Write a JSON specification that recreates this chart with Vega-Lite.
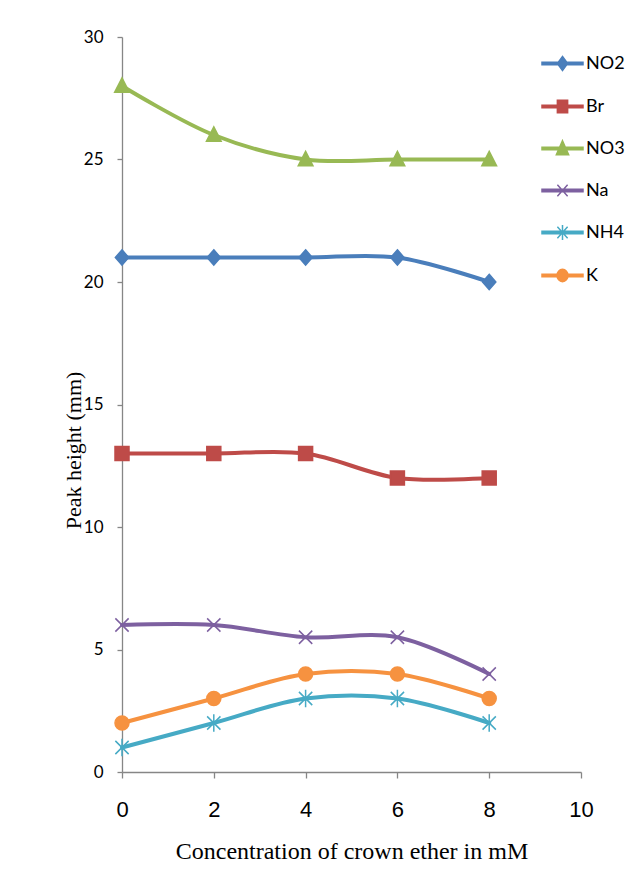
{
  "$schema": "https://vega.github.io/schema/vega-lite/v6.json",
  "width": 459,
  "height": 735,
  "autosize": "none",
  "padding": {"left": 122, "top": 37, "right": 54, "bottom": 112},
  "background": "white",
  "config": {
    "view": {"stroke": null},
    "axis": {"grid": false, "domainColor": "#868686", "tickColor": "#868686", "domainWidth": 1.3, "tickWidth": 1.3, "labelColor": "black", "titleColor": "black", "titleFontWeight": "normal"},
    "legend": {"title": null, "orient": "none", "legendX": 419, "legendY": 5,
      "symbolSize": 1681, "symbolStrokeWidth": 1.5, "labelFont": "Lato", "labelFontSize": 18, "labelColor": "black",
      "labelOffset": 2, "rowPadding": 11}
  },
  "data": {
    "values": [
      {"conc": 0, "peak": 21, "ion": "NO2"},
      {"conc": 2, "peak": 21, "ion": "NO2"},
      {"conc": 4, "peak": 21, "ion": "NO2"},
      {"conc": 6, "peak": 21, "ion": "NO2"},
      {"conc": 8, "peak": 20, "ion": "NO2"},
      {"conc": 0, "peak": 13, "ion": "Br"},
      {"conc": 2, "peak": 13, "ion": "Br"},
      {"conc": 4, "peak": 13, "ion": "Br"},
      {"conc": 6, "peak": 12, "ion": "Br"},
      {"conc": 8, "peak": 12, "ion": "Br"},
      {"conc": 0, "peak": 28, "ion": "NO3"},
      {"conc": 2, "peak": 26, "ion": "NO3"},
      {"conc": 4, "peak": 25, "ion": "NO3"},
      {"conc": 6, "peak": 25, "ion": "NO3"},
      {"conc": 8, "peak": 25, "ion": "NO3"},
      {"conc": 0, "peak": 6, "ion": "Na"},
      {"conc": 2, "peak": 6, "ion": "Na"},
      {"conc": 4, "peak": 5.5, "ion": "Na"},
      {"conc": 6, "peak": 5.5, "ion": "Na"},
      {"conc": 8, "peak": 4, "ion": "Na"},
      {"conc": 0, "peak": 1, "ion": "NH4"},
      {"conc": 2, "peak": 2, "ion": "NH4"},
      {"conc": 4, "peak": 3, "ion": "NH4"},
      {"conc": 6, "peak": 3, "ion": "NH4"},
      {"conc": 8, "peak": 2, "ion": "NH4"},
      {"conc": 0, "peak": 2, "ion": "K"},
      {"conc": 2, "peak": 3, "ion": "K"},
      {"conc": 4, "peak": 4, "ion": "K"},
      {"conc": 6, "peak": 4, "ion": "K"},
      {"conc": 8, "peak": 3, "ion": "K"}
    ]
  },
  "encoding": {
    "x": {
      "field": "conc", "type": "quantitative",
      "scale": {"domain": [0, 10], "nice": false},
      "axis": {"values": [0, 2, 4, 6, 8, 10], "title": "Concentration of crown ether in mM", "labelFlush": false,
        "labelFont": "Liberation Sans Narrow, Liberation Sans", "labelFontSize": 22, "labelPadding": 21, "tickSize": 6,
        "titleFont": "Liberation Serif", "titleFontSize": 24, "titlePadding": 19}
    },
    "y": {
      "field": "peak", "type": "quantitative",
      "scale": {"domain": [0, 30], "nice": false},
      "axis": {"values": [0, 5, 10, 15, 20, 25, 30], "title": "Peak height (mm)",
        "labelFont": "Lato", "labelFontSize": 17, "labelPadding": 14, "tickSize": 5,
        "titleFont": "Liberation Serif", "titleFontSize": 22, "titleX": -42, "titleY": 413, "titleAngle": -90, "titleAlign": "center", "titleBaseline": "alphabetic"}
    }
  },
  "layer": [
    {
      "mark": {"type": "line", "interpolate": "catmull-rom", "strokeWidth": 4, "strokeCap": "round", "strokeJoin": "round"},
      "encoding": {
        "color": {"field": "ion", "type": "nominal",
          "scale": {"domain": ["NO2", "Br", "NO3", "Na", "NH4", "K"], "range": ["#4A7EBB", "#BE4B48", "#98B954", "#7D60A0", "#46AAC5", "#F69240"]},
          "legend": null}
      }
    },
    {
      "mark": {"type": "point", "filled": true, "size": 196, "strokeWidth": 1.5, "opacity": 1},
      "encoding": {
        "color": {"field": "ion", "type": "nominal",
          "scale": {"domain": ["NO2", "Br", "NO3", "Na", "NH4", "K"], "range": ["#4A7EBB", "#BE4B48", "#98B954", "#7D60A0", "#46AAC5", "#F69240"]},
          "legend": null},
        "stroke": {"field": "ion", "type": "nominal",
          "scale": {"domain": ["NO2", "Br", "NO3", "Na", "NH4", "K"], "range": ["#4A7EBB", "#BE4B48", "#98B954", "#7D60A0", "#46AAC5", "#F69240"]},
          "legend": null},
        "shape": {"field": "ion", "type": "nominal",
          "scale": {"domain": ["NO2", "Br", "NO3", "Na", "NH4", "K"],
            "range": [
              "M0,-1.1L0.95,0L0,1.1L-0.95,0Z",
              "M-1,-1H1V1H-1Z",
              "M0,-1.15L1.05,0.9H-1.05Z",
              "M-0.95,-0.95L0.95,0.95M-0.95,0.95L0.95,-0.95",
              "M-0.95,-0.95L0.95,0.95M-0.95,0.95L0.95,-0.95M0,-1.25V1.25",
              "circle"
            ]},
          "legend": null}
      }
    },
    {
      "mark": {"type": "point", "filled": true, "opacity": 0},
      "encoding": {
        "color": {"field": "ion", "type": "nominal",
          "scale": {"domain": ["NO2", "Br", "NO3", "Na", "NH4", "K"], "range": ["#4A7EBB", "#BE4B48", "#98B954", "#7D60A0", "#46AAC5", "#F69240"]},
          "legend": {"encode": {"symbols": {"update": {"opacity": {"value": 1}, "strokeWidth": {"value": 1.5}}}}}},
        "stroke": {"field": "ion", "type": "nominal",
          "scale": {"domain": ["NO2", "Br", "NO3", "Na", "NH4", "K"], "range": ["#4A7EBB", "#BE4B48", "#98B954", "#7D60A0", "#46AAC5", "#F69240"]},
          "legend": {"encode": {"symbols": {"update": {"opacity": {"value": 1}, "strokeWidth": {"value": 1.5}}}}}},
        "shape": {"field": "ion", "type": "nominal",
          "scale": {"domain": ["NO2", "Br", "NO3", "Na", "NH4", "K"],
            "range": [
              "M-1,-0.06H1V0.06H-1ZM0,-0.34L0.25,0L0,0.34L-0.25,0Z",
              "M-1,-0.06H1V0.06H-1ZM-0.25,-0.3H0.25V0.3H-0.25Z",
              "M-1,-0.06H1V0.06H-1ZM0,-0.38L0.3,0.3H-0.3Z",
              "M-1,-0.06H1V0.06H-1ZM-0.25,-0.28L0.25,0.28M-0.25,0.28L0.25,-0.28",
              "M-1,-0.06H1V0.06H-1ZM-0.25,-0.28L0.25,0.28M-0.25,0.28L0.25,-0.28M0,-0.36V0.36",
              "M-1,-0.06H1V0.06H-1ZM0.27,0A0.27,0.3 0 1,1 -0.27,0A0.27,0.3 0 1,1 0.27,0Z"
            ]},
          "legend": {"encode": {"symbols": {"update": {"opacity": {"value": 1}, "strokeWidth": {"value": 1.5}}}}}}
      }
    }
  ],
  "resolve": {"scale": {"shape": "independent", "color": "independent", "stroke": "independent"}}
}
